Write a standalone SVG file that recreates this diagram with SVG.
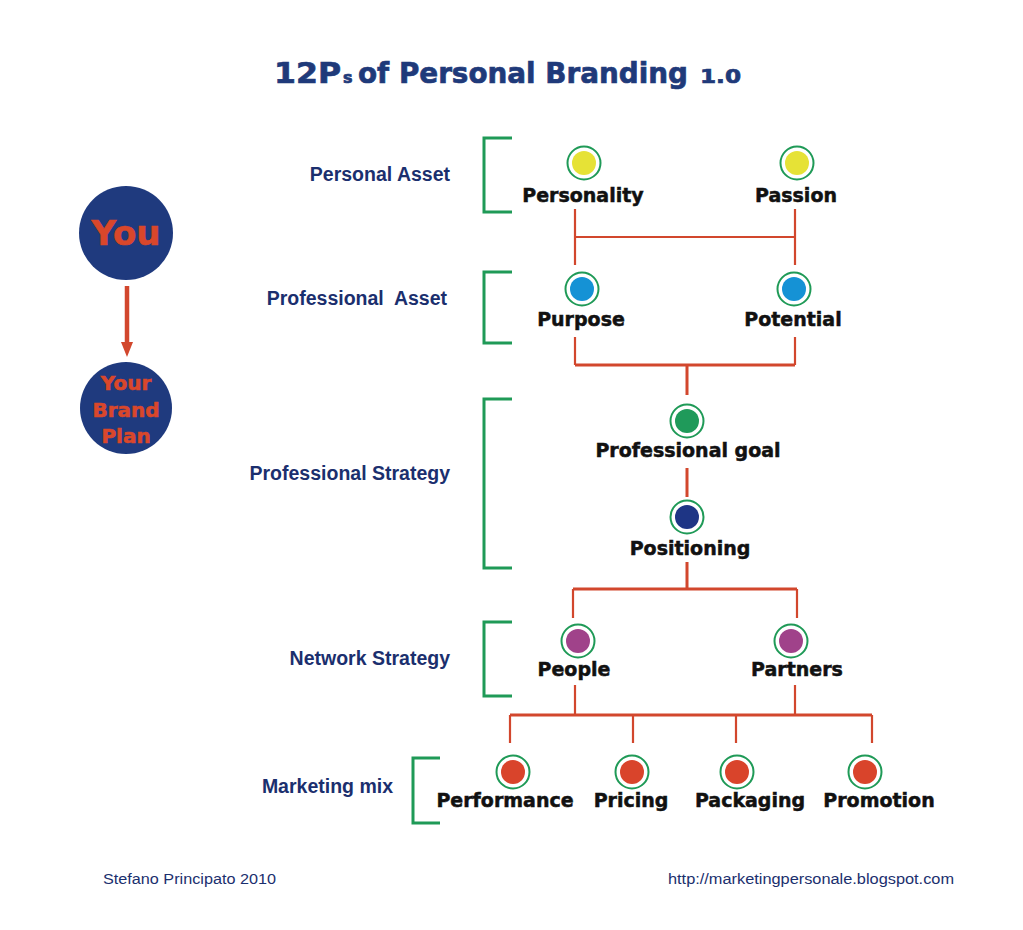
<svg xmlns="http://www.w3.org/2000/svg" width="1023" height="930" viewBox="0 0 1023 930">
<style>
.sec{font-family:"Liberation Sans",Arial,sans-serif;font-weight:bold;font-size:19.5px;fill:#1b2f6e;text-anchor:end}
.lbl{font-family:"DejaVu Sans",sans-serif;font-weight:bold;font-size:19px;fill:#111;stroke:#111;stroke-width:0.5;text-anchor:middle}
.br{fill:none;stroke:#1f9a57;stroke-width:3}
.ring{fill:#fff;stroke:#1f9a57;stroke-width:2}
.ln{fill:none;stroke:#d2472d;stroke-width:2.2}
.lnb{fill:none;stroke:#d2472d;stroke-width:3}
.foot{font-family:"Liberation Sans",Arial,sans-serif;font-size:14px;fill:#1b2f6e}
.big{fill:#1f3a7e}
.yt{font-family:"DejaVu Sans",sans-serif;font-weight:bold;fill:#d9472b;stroke:#d9472b;stroke-width:0.6;text-anchor:middle}
.ttl{font-family:"DejaVu Sans",sans-serif;font-weight:bold;fill:#1f3a7a;stroke:#1f3a7a;stroke-width:0.7}
</style>
<rect width="1023" height="930" fill="#fff"/>

<g id="title">
<text class="ttl" x="274" y="83" font-size="29" textLength="67" lengthAdjust="spacingAndGlyphs">12P</text>
<text class="ttl" x="343" y="83" font-size="16">s</text>
<text class="ttl" x="358" y="83" font-size="29" textLength="330" lengthAdjust="spacingAndGlyphs">of Personal Branding</text>
<text class="ttl" x="700" y="83" font-size="20" textLength="41" lengthAdjust="spacingAndGlyphs">1.0</text>
</g>

<g id="sections">
<g id="sec-personal-asset"><text class="sec" x="450" y="181">Personal Asset</text><path class="br" d="M512,138 H484 V212 H512"/></g>
<g id="sec-professional-asset"><text class="sec" x="447" y="305" xml:space="preserve">Professional  Asset</text><path class="br" d="M512,272 H484 V343 H512"/></g>
<g id="sec-professional-strategy"><text class="sec" x="450" y="480">Professional Strategy</text><path class="br" d="M512,399 H484 V568 H512"/></g>
<g id="sec-network-strategy"><text class="sec" x="450" y="665">Network Strategy</text><path class="br" d="M512,622 H484 V696 H512"/></g>
<g id="sec-marketing-mix"><text class="sec" x="393" y="793">Marketing mix</text><path class="br" d="M440,758 H413 V823 H440"/></g>
</g>

<g id="connectors">
<path class="ln" d="M575,209 V265 M795,209 V265 M575,237 H795"/>
<path class="ln" d="M575,337 V365 M795,337 V365"/>
<path class="lnb" d="M575,365 H795 M687,365 V395"/>
<path class="lnb" d="M687,468 V497"/>
<path class="lnb" d="M687,562 V589 M573,589 H797"/>
<path class="ln" d="M573,589 V618 M797,589 V618"/>
<path class="ln" d="M575,685 V715 M795,685 V715"/>
<path class="lnb" d="M510,715 H872"/>
<path class="ln" d="M510,715 V743 M633,715 V743 M736,715 V743 M872,715 V743"/>
<path d="M127,286 V344" stroke="#d2472d" stroke-width="4.5" fill="none"/>
<polygon points="121,342 133,342 127,357" fill="#d2472d"/>
</g>

<g id="you">
<circle class="big" cx="126" cy="233" r="47"/>
<text class="yt" x="126" y="245" font-size="34">You</text>
</g>
<g id="your-brand-plan">
<circle class="big" cx="126" cy="408" r="46"/>
<text class="yt" x="126" y="390" font-size="20">Your</text>
<text class="yt" x="126" y="417" font-size="20">Brand</text>
<text class="yt" x="126" y="443" font-size="20">Plan</text>
</g>

<g id="personality"><circle class="ring" cx="584" cy="163" r="16.5"/><circle cx="584" cy="163" r="12" fill="#e6e236"/><text class="lbl" x="583" y="202">Personality</text></g>
<g id="passion"><circle class="ring" cx="797" cy="163" r="16.5"/><circle cx="797" cy="163" r="12" fill="#e6e236"/><text class="lbl" x="796" y="202">Passion</text></g>
<g id="purpose"><circle class="ring" cx="582" cy="289" r="16.5"/><circle cx="582" cy="289" r="12" fill="#1592d5"/><text class="lbl" x="581" y="326">Purpose</text></g>
<g id="potential"><circle class="ring" cx="794" cy="289" r="16.5"/><circle cx="794" cy="289" r="12" fill="#1592d5"/><text class="lbl" x="793" y="326">Potential</text></g>
<g id="professional-goal"><circle class="ring" cx="687" cy="421" r="16.5"/><circle cx="687" cy="421" r="12" fill="#1f9a5a"/><text class="lbl" x="688" y="457">Professional goal</text></g>
<g id="positioning"><circle class="ring" cx="687" cy="517" r="16.5"/><circle cx="687" cy="517" r="12" fill="#1e3585"/><text class="lbl" x="690" y="555">Positioning</text></g>
<g id="people"><circle class="ring" cx="578" cy="641" r="16.5"/><circle cx="578" cy="641" r="12" fill="#a0428a"/><text class="lbl" x="574" y="676">People</text></g>
<g id="partners"><circle class="ring" cx="791" cy="641" r="16.5"/><circle cx="791" cy="641" r="12" fill="#a0428a"/><text class="lbl" x="797" y="676">Partners</text></g>
<g id="performance"><circle class="ring" cx="513" cy="772" r="16.5"/><circle cx="513" cy="772" r="12" fill="#d9442b"/><text class="lbl" x="505" y="807">Performance</text></g>
<g id="pricing"><circle class="ring" cx="632" cy="772" r="16.5"/><circle cx="632" cy="772" r="12" fill="#d9442b"/><text class="lbl" x="631" y="807">Pricing</text></g>
<g id="packaging"><circle class="ring" cx="737" cy="772" r="16.5"/><circle cx="737" cy="772" r="12" fill="#d9442b"/><text class="lbl" x="750" y="807">Packaging</text></g>
<g id="promotion"><circle class="ring" cx="865" cy="772" r="16.5"/><circle cx="865" cy="772" r="12" fill="#d9442b"/><text class="lbl" x="879" y="807">Promotion</text></g>

<g id="footer">
<text class="foot" x="103" y="884" textLength="173" lengthAdjust="spacingAndGlyphs">Stefano Principato 2010</text>
<text class="foot" x="668" y="884" textLength="286" lengthAdjust="spacingAndGlyphs">http://marketingpersonale.blogspot.com</text>
</g>
</svg>
